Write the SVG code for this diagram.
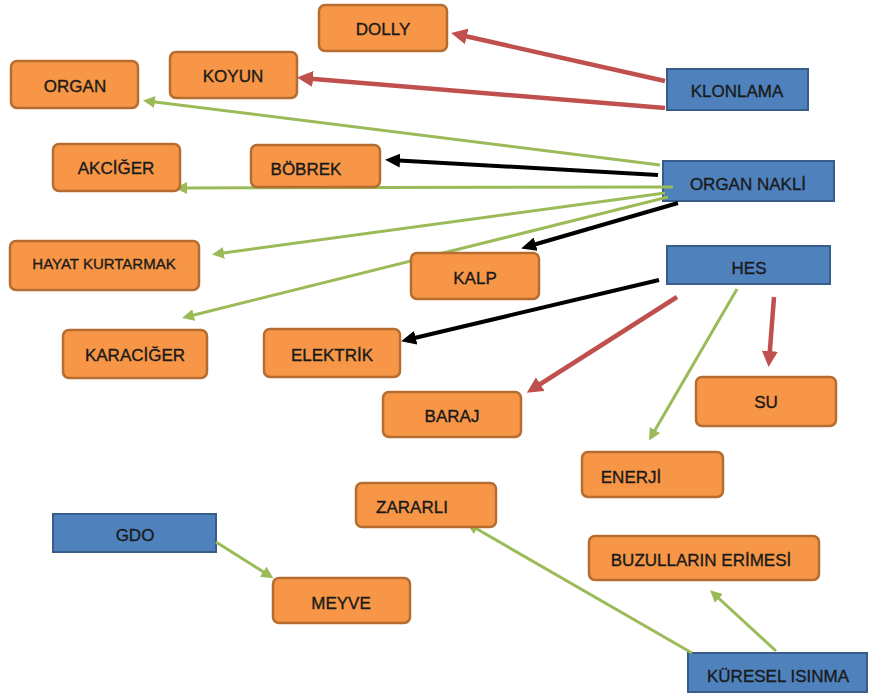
<svg xmlns="http://www.w3.org/2000/svg" width="871" height="697" viewBox="0 0 871 697">
<style>
.o rect{fill:#F79646;stroke:#B66D31;stroke-width:2.5}
.b rect{fill:#4F81BD;stroke:#385D8A;stroke-width:2}
text{font-family:"Liberation Sans",Arial,sans-serif;font-size:17px;fill:#1a1a1a;stroke:#1a1a1a;stroke-width:0.35;text-anchor:middle}
.s{font-size:15px}
.r{stroke:#C0504D;stroke-width:4.5;fill:none;marker-end:url(#ar)}
.g{stroke:#9BBB59;stroke-width:3;fill:none;marker-end:url(#ag)}
.k{stroke:#000;stroke-width:4;fill:none;marker-end:url(#ak)}
</style>
<defs>
<marker id="ar" markerUnits="userSpaceOnUse" markerWidth="18" markerHeight="16" refX="11" refY="8" orient="auto"><path d="M0,0 L16,8 L0,16 z" fill="#C0504D"/></marker>
<marker id="ag" markerUnits="userSpaceOnUse" markerWidth="14" markerHeight="12" refX="8" refY="6" orient="auto"><path d="M0,0 L12,6 L0,12 z" fill="#9BBB59"/></marker>
<marker id="ak" markerUnits="userSpaceOnUse" markerWidth="16" markerHeight="14" refX="10" refY="7" orient="auto"><path d="M0,0 L15,7 L0,14 z" fill="#000"/></marker>
</defs>
<rect width="871" height="697" fill="#fff"/>
<g id="klonlama" class="b"><rect x="667" y="69" width="141" height="41"/><text x="737" y="97">KLONLAMA</text></g>
<g id="organ-nakli" class="b"><rect x="663" y="161" width="171" height="40"/><text x="748" y="190">ORGAN NAKLİ</text></g>
<g id="hes" class="b"><rect x="667" y="246" width="163" height="38"/><text x="749" y="274">HES</text></g>
<g id="gdo" class="b"><rect x="53" y="514" width="163" height="38"/><text x="135" y="541">GDO</text></g>
<g id="kuresel-isinma" class="b"><rect x="688" y="653" width="179" height="39"/><text x="778" y="682">KÜRESEL ISINMA</text></g>
<g id="connectors">
<line class="r" x1="665" y1="81" x2="456" y2="34"/>
<line class="r" x1="665" y1="108" x2="302" y2="78"/>
<line class="g" x1="660" y1="165" x2="147" y2="101"/>
<line class="k" x1="658" y1="175" x2="390" y2="160"/>
<line class="g" x1="673" y1="187" x2="179" y2="188"/>
<line class="g" x1="665" y1="193" x2="216" y2="254"/>
<line class="g" x1="668" y1="197" x2="186" y2="317"/>
<line class="k" x1="678" y1="203" x2="526" y2="247"/>
<line class="k" x1="659" y1="280" x2="406" y2="340"/>
<line class="r" x1="677" y1="297" x2="531" y2="390"/>
<line class="g" x1="737" y1="289" x2="651" y2="437"/>
<line class="r" x1="774" y1="297" x2="769" y2="362"/>
<line class="g" x1="216" y1="542" x2="270" y2="576"/>
<line class="g" x1="692" y1="653" x2="470" y2="525"/>
<line class="g" x1="776" y1="651" x2="713" y2="593"/>
</g>
<g id="dolly" class="o"><rect x="319" y="5" width="128" height="46" rx="6"/><text x="383" y="35">DOLLY</text></g>
<g id="koyun" class="o"><rect x="170" y="52" width="127" height="46" rx="6"/><text x="233" y="82">KOYUN</text></g>
<g id="organ" class="o"><rect x="11" y="61" width="127" height="47" rx="6"/><text x="75" y="92">ORGAN</text></g>
<g id="akciger" class="o"><rect x="53" y="144" width="127" height="47" rx="6"/><text x="116" y="174">AKCİĞER</text></g>
<g id="bobrek" class="o"><rect x="251" y="145" width="129" height="42" rx="6"/><text x="306" y="175">BÖBREK</text></g>
<g id="hayat-kurtarmak" class="o"><rect x="10" y="241" width="189" height="49" rx="6"/><text class="s" x="104" y="269">HAYAT KURTARMAK</text></g>
<g id="kalp" class="o"><rect x="411" y="253" width="128" height="46" rx="6"/><text x="475" y="284">KALP</text></g>
<g id="karaciger" class="o"><rect x="63" y="330" width="144" height="48" rx="6"/><text x="135" y="361">KARACİĞER</text></g>
<g id="elektrik" class="o"><rect x="264" y="329" width="136" height="48" rx="6"/><text x="332" y="361">ELEKTRİK</text></g>
<g id="baraj" class="o"><rect x="383" y="392" width="138" height="45" rx="6"/><text x="452" y="422">BARAJ</text></g>
<g id="su" class="o"><rect x="696" y="377" width="140" height="49" rx="6"/><text x="766" y="408">SU</text></g>
<g id="enerji" class="o"><rect x="582" y="452" width="141" height="45" rx="6"/><text x="631" y="483">ENERJİ</text></g>
<g id="zararli" class="o"><rect x="356" y="483" width="140" height="44" rx="6"/><text x="412" y="513">ZARARLI</text></g>
<g id="buzullarin-erimesi" class="o"><rect x="589" y="536" width="230" height="44" rx="6"/><text x="701" y="566">BUZULLARIN ERİMESİ</text></g>
<g id="meyve" class="o"><rect x="273" y="578" width="137" height="45" rx="6"/><text x="341" y="609">MEYVE</text></g>
</svg>
